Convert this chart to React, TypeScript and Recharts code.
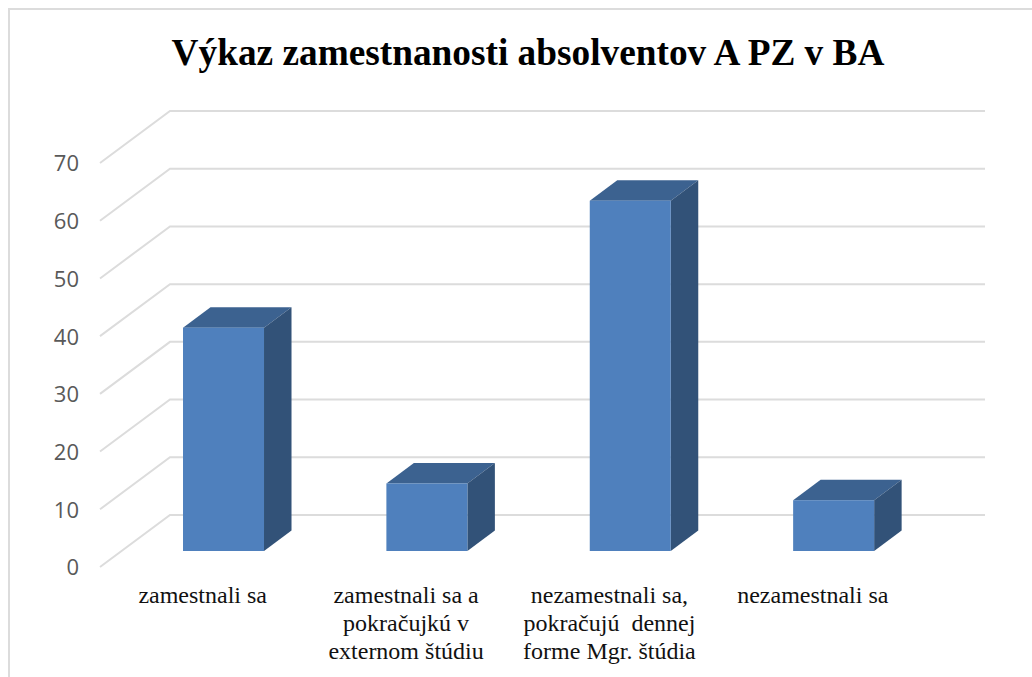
import { BarChart, Bar, XAxis, YAxis, CartesianGrid } from "recharts";

const categories = [
  "zamestnali sa",
  "zamestnali sa a pokračujkú v externom štúdiu",
  "nezamestnali sa, pokračujú  dennej forme Mgr. štúdia",
  "nezamestnali sa",
];
const values = [38.7, 11.7, 60.7, 8.8];
const yTicks = [0, 10, 20, 30, 40, 50, 60, 70];

const labelLines: Record<string, string[]> = {
  [categories[0]]: ["zamestnali sa"],
  [categories[1]]: ["zamestnali sa a", "pokračujkú v", "externom štúdiu"],
  [categories[2]]: ["nezamestnali sa,", "pokračujú  dennej", "forme Mgr. štúdia"],
  [categories[3]]: ["nezamestnali sa"],
};

const rows = categories.map((name, i) => ({ name, value: values[i] }));

const SERIF = "'Liberation Serif', serif";
const GRID = "#dcdcdc";

// offset of the side wall (back plane vs. the plane the bars stand on)
const WALL_DX = 48;
const WALL_DX_RIGHT = 49.5;
const WALL_DY = 36;
const FLOOR_DX = 70;
const FLOOR_DY = 52;
// bar depth
const DEPTH_X = 27.5;
const DEPTH_Y = 20.5;

function Box({ x, y, width, height }: any) {
  const r = x + width;
  const b = y + height;
  return (
    <g>
      <path
        d={`M${x},${y} L${x + DEPTH_X},${y - DEPTH_Y} L${r + DEPTH_X},${y - DEPTH_Y} L${r},${y} Z`}
        fill="#3c6290"
      />
      <path
        d={`M${r},${y} L${r + DEPTH_X},${y - DEPTH_Y} L${r + DEPTH_X},${b - DEPTH_Y} L${r},${b} Z`}
        fill="#325278"
      />
      <rect x={x} y={y} width={width} height={height} fill="#4f80bd" />
    </g>
  );
}

// back wall line plus the diagonal running forward along the side wall
function GridLine({ x1, x2, y1 }: any) {
  const backX = x1 + WALL_DX;
  const backY = y1 - WALL_DY;
  return (
    <polyline
      points={`${backX - FLOOR_DX},${backY + FLOOR_DY} ${backX},${backY} ${x2 + WALL_DX_RIGHT},${backY}`}
      fill="none"
      stroke={GRID}
      strokeWidth={2}
    />
  );
}

function YTick({ y, payload }: any) {
  return (
    <text
      x={79}
      y={y + 16.5}
      dy="0.36em"
      textAnchor="end"
      fontFamily="'Open Sans', sans-serif"
      fontSize={22}
      fill="#595959"
    >
      {payload.value}
    </text>
  );
}

function XTick({ x, y, payload }: any) {
  const lines = labelLines[payload.value] || [payload.value];
  return (
    <text
      textAnchor="middle"
      fontFamily={SERIF}
      fontSize={24}
      fill="#111"
      style={{ whiteSpace: "pre" }}
    >
      {lines.map((line, i) => (
        <tspan key={i} x={x - 21} y={y + 44 + i * 28}>
          {line}
        </tspan>
      ))}
    </text>
  );
}

export default function App() {
  return (
    <div
      style={{
        position: "fixed",
        left: 0,
        top: 0,
        width: 1032,
        height: 677,
        background: "#fff",
        overflow: "hidden",
      }}
    >
      <div
        style={{
          position: "absolute",
          left: 8,
          top: 8,
          right: 0,
          bottom: 0,
          borderLeft: "2px solid #dcdcdc",
          borderTop: "2px solid #dcdcdc",
        }}
      />
      <BarChart
        width={1032}
        height={677}
        data={rows}
        barCategoryGap="30%"
        margin={{ top: 147, right: 96.5, bottom: 66, left: 62 }}
        style={{ position: "absolute", left: 0, top: 0 }}
      >
        <text
          x={528}
          y={65}
          textAnchor="middle"
          fontFamily={SERIF}
          fontWeight="bold"
          fontSize={37.3}
          fill="#000"
        >
          Výkaz zamestnanosti absolventov A PZ v BA
        </text>
        <CartesianGrid vertical={false} horizontal={(p: any) => <GridLine key={p.index} {...p} />} />
        <XAxis
          dataKey="name"
          height={60}
          interval={0}
          axisLine={false}
          tickLine={false}
          tick={<XTick />}
        />
        <YAxis
          width={60}
          domain={[0, 70]}
          ticks={yTicks}
          axisLine={false}
          tickLine={false}
          tick={<YTick />}
        />
        <Bar dataKey="value" isAnimationActive={false} shape={<Box />} />
      </BarChart>
    </div>
  );
}
